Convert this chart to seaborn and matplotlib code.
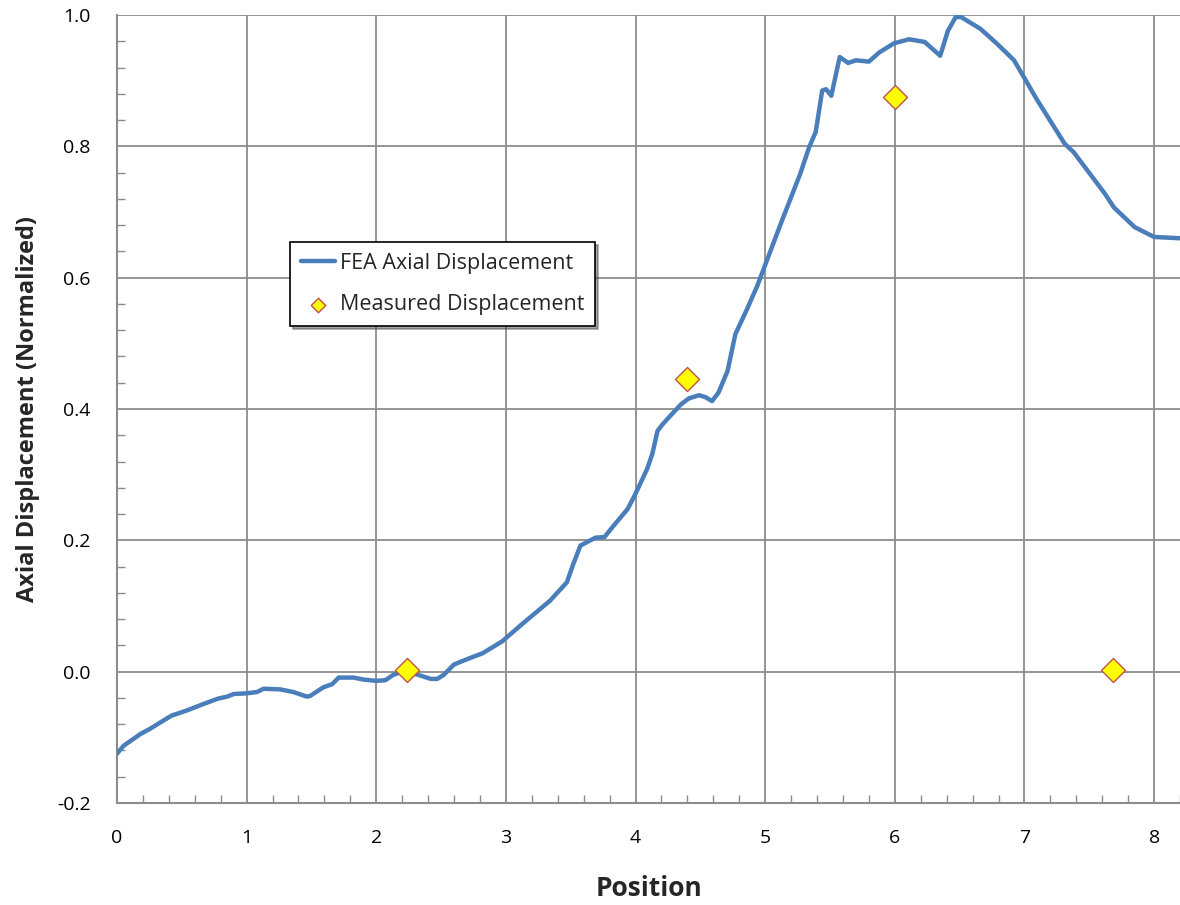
import matplotlib
matplotlib.use("Agg")
import matplotlib.pyplot as plt
import seaborn as sns
import pandas as pd
import numpy as np
from matplotlib.ticker import MultipleLocator, FormatStrFormatter

# FEA curve
fea_x = [0.0, 0.05, 0.18, 0.255, 0.32, 0.42, 0.54, 0.67, 0.78, 0.85, 0.90, 1.0, 1.08, 1.13, 1.26,
         1.36, 1.465, 1.49, 1.59, 1.66, 1.71, 1.825, 1.90, 2.0, 2.07, 2.13, 2.2, 2.31, 2.42, 2.47,
         2.52, 2.60, 2.70, 2.82, 2.97, 3.14, 3.34, 3.47, 3.52, 3.575, 3.69, 3.76, 3.83, 3.94, 4.0,
         4.09, 4.13, 4.17, 4.21, 4.27, 4.35, 4.41, 4.49, 4.54, 4.59, 4.64, 4.71, 4.77, 4.86, 4.94,
         5.12, 5.27, 5.34, 5.39, 5.44, 5.47, 5.51, 5.575, 5.64, 5.70, 5.80, 5.88, 5.995, 6.11,
         6.23, 6.35, 6.41, 6.47, 6.51, 6.66, 6.79, 6.92, 7.10, 7.31, 7.38, 7.62, 7.69, 7.85, 8.0, 8.2]
fea_y = [-0.125, -0.113, -0.095, -0.087, -0.079, -0.067, -0.059, -0.049, -0.041, -0.038, -0.034,
         -0.033, -0.031, -0.026, -0.027, -0.031, -0.038, -0.037, -0.024, -0.019, -0.009, -0.009,
         -0.012, -0.014, -0.013, -0.005, 0.0, -0.004, -0.011, -0.011, -0.005, 0.011, 0.019, 0.028,
         0.046, 0.075, 0.108, 0.136, 0.164, 0.192, 0.204, 0.205, 0.222, 0.248, 0.271, 0.309, 0.332,
         0.367, 0.377, 0.390, 0.407, 0.416, 0.421, 0.418, 0.412, 0.425, 0.458, 0.514, 0.552, 0.588,
         0.682, 0.758, 0.799, 0.822, 0.885, 0.887, 0.877, 0.936, 0.927, 0.931, 0.929, 0.943, 0.957,
         0.963, 0.959, 0.938, 0.976, 0.997, 0.997, 0.979, 0.956, 0.931, 0.870, 0.804, 0.791, 0.728,
         0.707, 0.677, 0.662, 0.660]

meas_x = [2.24, 4.40, 6.0, 7.68]
meas_y = [0.002, 0.446, 0.875, 0.002]

x_ticks = [0, 1, 2, 3, 4, 5, 6, 7, 8]
y_ticks = [-0.2, 0.0, 0.2, 0.4, 0.6, 0.8, 1.0]

sns.set_style("white")
plt.rcParams['font.family'] = ['Open Sans', 'DejaVu Sans']

fea = pd.DataFrame({"Position": fea_x, "Disp": fea_y})
meas = pd.DataFrame({"Position": meas_x, "Disp": meas_y})

fig = plt.figure(figsize=(11.8, 9.05), dpi=100)
ax = fig.add_axes([117/1180, 1 - 803/905, 1 - 117/1180, (803 - 15)/905])

grid_c = "#8c8c8c"
sns.lineplot(data=fea, x="Position", y="Disp", ax=ax, color="#4a7ebb", linewidth=3.2,
             label="FEA Axial Displacement", zorder=3, estimator=None, sort=False)
sns.scatterplot(data=meas, x="Position", y="Disp", ax=ax, marker="D", s=150,
                color="#ffff00", edgecolor="#c0504d", linewidth=1.0,
                label="Measured Displacement", zorder=4)

ax.set_xlim(0, 8.2)
ax.set_ylim(-0.2, 1.0)
ax.set_xticks(x_ticks)
ax.set_yticks(y_ticks)
ax.yaxis.set_major_formatter(FormatStrFormatter("%.1f"))
ax.xaxis.set_minor_locator(MultipleLocator(0.2))
ax.yaxis.set_minor_locator(MultipleLocator(0.04))
ax.grid(True, which="major", color=grid_c, linewidth=1.3)
ax.set_axisbelow(True)
for s in ["top", "right"]:
    ax.spines[s].set_visible(False)
for s in ["left", "bottom"]:
    ax.spines[s].set_color(grid_c)
    ax.spines[s].set_linewidth(1.5)
ax.tick_params(which="major", direction="inout", length=12, width=1.3, color=grid_c,
               labelsize=14, labelcolor="black")
ax.tick_params(axis="x", which="major", pad=13)
ax.tick_params(axis="y", which="major", pad=13)
ax.tick_params(which="minor", direction="in", length=6, width=1.0, color=grid_c,
               left=True, bottom=True)

ax.set_xlabel("Position", fontsize=19, fontweight="bold", labelpad=20)
ax.set_ylabel("Axial Displacement (Normalized)", fontsize=17, fontweight="bold", labelpad=12)

leg = ax.legend(loc="upper left", bbox_to_anchor=(0.163, 0.712), frameon=True, fancybox=False,
                shadow=True, edgecolor="black", fontsize=15.5, borderpad=0.5,
                handlelength=1.6, handletextpad=0.2, labelspacing=0.95, borderaxespad=0,
                markerscale=0.6)
leg.get_frame().set_linewidth(1.2)

fig.savefig("out.png", dpi=100)
